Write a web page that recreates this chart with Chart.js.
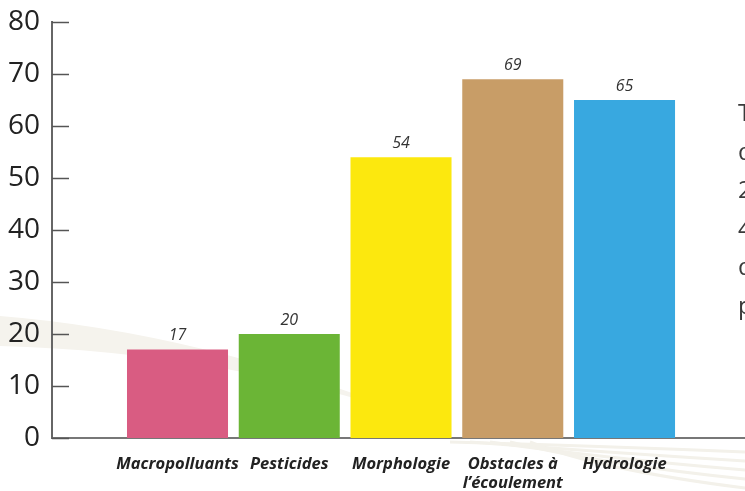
<!DOCTYPE html>
<html>
<head>
<meta charset="utf-8">
<script src="https://cdn.jsdelivr.net/npm/chart.js@4"></script>
<style>
  html, body { margin: 0; padding: 0; background: #fff; overflow: hidden; }
  #wrap { position: relative; width: 745px; height: 491px; }
  #side { position: absolute; left: 738px; top: 93px; font: 24px "Open Sans", sans-serif; color: #3a3a3a; line-height: 38.5px; white-space: nowrap; }
</style>
</head>
<body>
<div id="wrap">
  <canvas id="pressions" width="745" height="491"></canvas>
  <div id="side">T<br>d<br>2<br>4<br>d<br>p</div>
</div>
<script>
// pressions (nombre de masses d'eau)
const categories = ['Macropolluants', 'Pesticides', 'Morphologie', ['Obstacles à', 'l\u2019écoulement'], 'Hydrologie'];
const values = [17, 20, 54, 69, 65];
const barColors = ['#D95C82', '#6BB536', '#FCE80E', '#C89D67', '#38A8E0'];
const yTicks = [0, 10, 20, 30, 40, 50, 60, 70, 80];

// fond : bande claire en arrière-plan
const swoosh = {
  id: 'swoosh',
  beforeDraw(chart) {
    const c = chart.ctx;
    c.save();
    c.fillStyle = '#f5f3ed';
    c.beginPath();
    c.moveTo(0, 316);
    c.quadraticCurveTo(200, 332, 420, 418);
    c.quadraticCurveTo(220, 352, 0, 346);
    c.closePath();
    c.fill();
    c.strokeStyle = '#f3f1ea';
    c.lineWidth = 3;
    for (let i = 0; i < 5; i++) {
      c.beginPath();
      c.moveTo(450 + i * 20, 442);
      c.quadraticCurveTo(600, 446 + i * 6, 745, 452 + i * 9);
      c.stroke();
    }
    c.restore();
  }
};

// petits traits de graduation vers l'intérieur + valeurs au-dessus des barres
const marks = {
  id: 'marks',
  afterDraw(chart) {
    const c = chart.ctx;
    const y = chart.scales.y;
    c.save();
    c.strokeStyle = '#555';
    c.lineWidth = 1.5;
    yTicks.forEach(t => {
      const py = Math.round(y.getPixelForValue(t)) + 0.5;
      c.beginPath();
      c.moveTo(y.right, py);
      c.lineTo(y.right + 17, py);
      c.stroke();
    });
    c.fillStyle = '#333';
    c.font = 'italic 16px "Open Sans", sans-serif';
    c.textAlign = 'center';
    c.textBaseline = 'bottom';
    chart.getDatasetMeta(0).data.forEach((bar, i) => {
      c.fillText(values[i], bar.x, bar.y - 6);
    });
    c.restore();
  }
};

new Chart(document.getElementById('pressions'), {
  type: 'bar',
  data: {
    datasets: [{
      data: values.map((v, i) => ({ x: i + 1, y: v })),
      backgroundColor: barColors,
      borderWidth: 0,
      categoryPercentage: 1,
      barPercentage: 0.904
    }]
  },
  options: {
    responsive: false,
    animation: false,
    layout: { padding: { top: 22, left: 0, right: 0, bottom: 0 } },
    plugins: { legend: { display: false }, tooltip: { enabled: false } },
    scales: {
      x: {
        type: 'linear',
        offset: false,
        min: -0.123,
        max: 6.078,
        afterFit: s => { s.height = 53; s.paddingLeft = 0; s.paddingRight = 0; },
        afterBuildTicks: s => { s.ticks = categories.map((c, i) => ({ value: i + 1 })); },
        grid: { display: false },
        border: { color: '#777', width: 2 },
        ticks: {
          autoSkip: false,
          maxRotation: 0,
          padding: 9,
          color: '#222',
          font: { family: 'Open Sans', size: 16.5, style: 'italic', weight: 'bold', lineHeight: 1.15 },
          callback: v => categories[v - 1]
        }
      },
      y: {
        min: 0,
        max: 80,
        afterFit: s => { s.width = 52; s.paddingTop = 0; s.paddingBottom = 0; },
        afterBuildTicks: s => { s.ticks = yTicks.map(v => ({ value: v })); },
        grid: { display: false, drawTicks: false },
        border: { color: '#666', width: 2 },
        ticks: {
          padding: 12,
          color: '#222',
          font: { family: 'Open Sans', size: 28 }
        }
      }
    }
  },
  plugins: [swoosh, marks]
});
</script>
</body>
</html>
